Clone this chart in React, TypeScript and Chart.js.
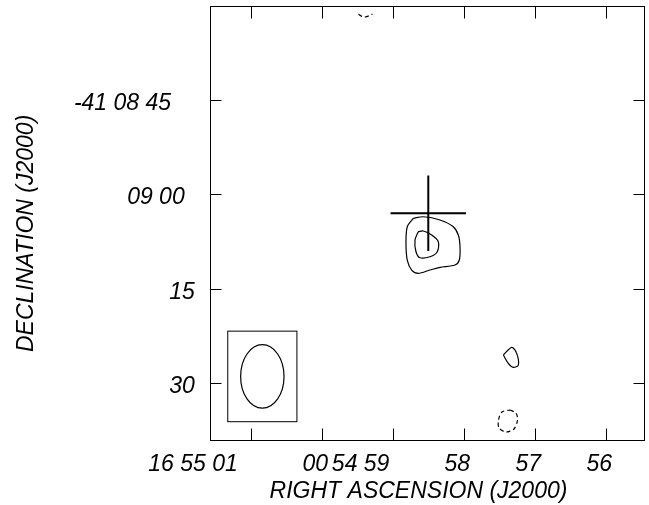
import { useEffect, useRef } from 'react';
import { Chart, registerables } from 'chart.js';

Chart.register(...registerables);

// Right ascension in seconds of time past 16h54m, declination in arcsec past -41°08'.
const raTicks = [61, 60, 59, 58, 57, 56];
const raTickLabels = ['16 55 01', '00', '54 59', '58', '57', '56'];
const decTicks = [45, 60, 75, 90];
const decTickLabels = ['-41 08 45', '09 00', '15', '30'];

const raRange = [55.451, 61.577];
const decRange = [30.0, 99.06];

// Contours: [ra, dec] vertices
const sourceOuter: [number, number][] = [
  [58.714, 63.81], [58.573, 63.56], [58.338, 64.08], [58.151, 65.15], [58.08, 66.47],
  [58.056, 68.33], [58.066, 70.44], [58.127, 71.24], [58.338, 71.6], [58.479, 72.03],
  [58.644, 72.56], [58.737, 72.03], [58.799, 70.44], [58.817, 67.79], [58.799, 65.15],
];
const sourceInner: [number, number][] = [
  [58.644, 65.94], [58.573, 65.83], [58.455, 66.47], [58.362, 67.53], [58.376, 69.12],
  [58.479, 69.92], [58.62, 70.08], [58.676, 69.12], [58.69, 67.26],
];
const blobPositive: [number, number][] = [
  [57.446, 85.55], [57.328, 84.32], [57.258, 85.28], [57.235, 87.14], [57.306, 87.5], [57.376, 86.87],
];
const blobNegative: [number, number][] = [
  [57.352, 94.29], [57.268, 94.77], [57.246, 95.88], [57.296, 97.31], [57.408, 97.79],
  [57.507, 97.15], [57.514, 95.88], [57.465, 94.61],
];
// lower rim of a negative contour that lies mostly north of the field
const edgeNegative: [number, number][] = [
  [59.486, 31.37], [59.437, 31.69], [59.387, 31.78], [59.338, 31.61], [59.289, 31.33],
];

// Marked position and restoring beam
const crossRa = 58.503;
const crossDec = 63.02;
const crossHalf = 6; // arcsec
const beamRa = 60.84;
const beamDec = 88.95;
const beamMajor = 10.1; // arcsec, north-south
const beamMinor = 6.9; // arcsec
const beamBoxW = 11.0;
const beamBoxH = 14.4;
const arcsecPerSec = 15 * Math.cos((41.15 * Math.PI) / 180);

const FONT = 'italic 23px "Liberation Sans", Arial, Helvetica, sans-serif';

const toPoints = (pts: [number, number][], close: boolean) =>
  (close ? [...pts, pts[0]] : pts).map(([x, y]) => ({ x, y }));

const contour = (pts: [number, number][], dashed: boolean, close = true) => ({
  data: toPoints(pts, close),
  showLine: true,
  borderColor: '#000',
  borderWidth: 1.2,
  borderDash: dashed ? [4, 3] : [],
  pointRadius: 0,
  tension: 0.3,
  fill: false,
});

const skyFrame = {
  id: 'skyFrame',
  afterDatasetsDraw(chart: any) {
    const { ctx, chartArea: a } = chart;
    const xs = chart.scales.x;
    const ys = chart.scales.y;
    const pxPerArcsecY = Math.abs(ys.getPixelForValue(decRange[0] + 1) - ys.getPixelForValue(decRange[0]));
    const pxPerArcsecX = Math.abs(xs.getPixelForValue(raRange[0] + 1) - xs.getPixelForValue(raRange[0])) / arcsecPerSec;

    ctx.save();
    ctx.strokeStyle = '#000';
    ctx.fillStyle = '#000';

    // cross
    const cx = xs.getPixelForValue(crossRa);
    const cy = ys.getPixelForValue(crossDec);
    ctx.lineWidth = 2;
    ctx.beginPath();
    ctx.moveTo(cx - crossHalf * pxPerArcsecX, cy);
    ctx.lineTo(cx + crossHalf * pxPerArcsecX, cy);
    ctx.moveTo(cx, cy - crossHalf * pxPerArcsecY);
    ctx.lineTo(cx, cy + crossHalf * pxPerArcsecY);
    ctx.stroke();

    // beam with its box
    const bx = xs.getPixelForValue(beamRa);
    const by = ys.getPixelForValue(beamDec);
    ctx.lineWidth = 1;
    ctx.strokeRect(
      bx - (beamBoxW / 2) * pxPerArcsecX,
      by - (beamBoxH / 2) * pxPerArcsecY,
      beamBoxW * pxPerArcsecX,
      beamBoxH * pxPerArcsecY
    );
    ctx.lineWidth = 1.2;
    ctx.beginPath();
    ctx.ellipse(bx, by, (beamMinor / 2) * pxPerArcsecX, (beamMajor / 2) * pxPerArcsecY, 0, 0, Math.PI * 2);
    ctx.stroke();

    // frame
    ctx.lineWidth = 1;
    const L = Math.round(a.left) + 0.5;
    const R = Math.round(a.right) - 0.5;
    const T = Math.round(a.top) + 0.5;
    const B = Math.round(a.bottom) + 0.5;
    ctx.strokeRect(L, T, R - L, B - T);

    // ticks
    ctx.beginPath();
    raTicks.forEach((v) => {
      const px = Math.round(xs.getPixelForValue(v)) + 0.5;
      ctx.moveTo(px, B);
      ctx.lineTo(px, B - 12);
      ctx.moveTo(px, T);
      ctx.lineTo(px, T + 12);
    });
    decTicks.forEach((v) => {
      const py = Math.round(ys.getPixelForValue(v)) + 0.5;
      ctx.moveTo(L, py);
      ctx.lineTo(L + 11, py);
      ctx.moveTo(R, py);
      ctx.lineTo(R - 11, py);
    });
    ctx.stroke();

    // tick labels
    ctx.font = FONT;
    ctx.textBaseline = 'alphabetic';
    ctx.textAlign = 'right';
    raTicks.forEach((v, i) => {
      const lab = raTickLabels[i];
      const px = xs.getPixelForValue(v);
      ctx.fillText(lab, px + 12.4 - 3.2 * lab.length, a.bottom + 30.5);
    });
    decTicks.forEach((v, i) => {
      const lab = decTickLabels[i];
      const py = ys.getPixelForValue(v);
      ctx.fillText(lab, a.left - 8.3 - 3.4 * lab.length, py + 10);
    });

    // axis titles
    ctx.textAlign = 'center';
    ctx.fillText('RIGHT ASCENSION (J2000)', (a.left + a.right) / 2 - 9, a.bottom + 57.5);
    ctx.save();
    ctx.translate(33, (a.top + a.bottom) / 2 + 10.5);
    ctx.rotate(-Math.PI / 2);
    ctx.fillText('DECLINATION (J2000)', 0, 0);
    ctx.restore();

    ctx.restore();
  },
};

export default function App() {
  const ref = useRef<HTMLCanvasElement | null>(null);

  useEffect(() => {
    if (!ref.current) return;
    const chart = new Chart(ref.current, {
      type: 'scatter',
      data: {
        datasets: [
          contour(sourceOuter, false),
          contour(sourceInner, false),
          contour(blobPositive, false),
          contour(blobNegative, true),
          contour(edgeNegative, true, false),
        ] as any,
      },
      options: {
        animation: false,
        responsive: false,
        devicePixelRatio: 1,
        layout: { padding: { left: 210, right: 4, top: 5.7, bottom: 65 } },
        plugins: { legend: { display: false }, tooltip: { enabled: false } },
        events: [],
        scales: {
          x: { type: 'linear', display: false, min: raRange[0], max: raRange[1], reverse: true },
          y: { type: 'linear', display: false, min: decRange[0], max: decRange[1], reverse: true },
        },
      },
      plugins: [skyFrame],
    });
    return () => chart.destroy();
  }, []);

  return (
    <div style={{ position: 'fixed', left: 0, top: 0, width: 649, height: 505, background: '#fff' }}>
      <canvas ref={ref} width={649} height={505} />
    </div>
  );
}
